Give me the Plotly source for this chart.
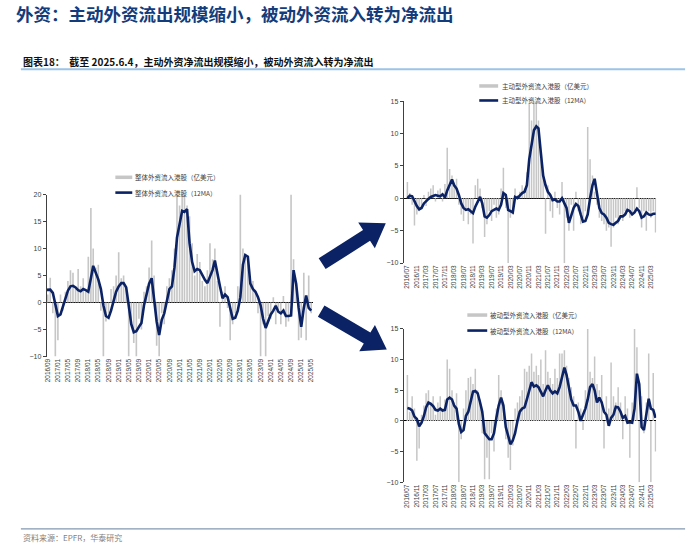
import plotly.graph_objects as go
import pandas as pd

# ---------------- data ----------------
months = pd.date_range("2016-07-01", "2025-05-01", freq="MS")

# overall foreign flows into HK stocks (USD 100mn)
total_flow = [
    2.5, 3.0, 1.5, 4.6, -2.0, -10.0,
    -7.0, 1.5, -1.5, 2.0, 4.0, 6.0, 5.5, 2.5, 6.2, 3.0, 4.5, 2.0,
    8.5, 17.5, 10.0, 6.5, 7.0, -1.5, -10.0, -3.5, -2.0, 2.5, 3.0, 5.0,
    9.3, 4.5, 5.0, 2.5, -10.0, -3.0, -7.5, -10.0, -3.0, -5.0, 2.0, 3.0,
    6.5, 11.5, 5.0, -8.0, -10.0, -2.0, -4.0, 3.0, 4.5, 6.0, 10.0, 20.0,
    18.0, 20.0, 20.0, 18.0, 16.0, 11.0, 5.0, 9.0, 7.5, 4.0, 3.0, 6.0,
    11.0, 8.0, 10.0, 4.0, -4.5, 2.0, 3.0, -1.0, -7.0, -4.0, -2.0, 3.0,
    20.0, 10.0, 9.0, 8.0, 3.5, 4.0, 2.0, -2.0, -10.0, -4.0, -10.0, -2.5,
    -3.0, 1.0, -4.0, -1.5, -4.0, 1.2, -4.5, -3.5, 20.0, 8.0, 3.0, -7.0,
    -6.5, 5.5, -7.0, 5.0, -2.0,
]
total_ma = [
    2.3, 2.3, 2.3, 2.4, 1.8, -0.5,
    -2.5, -2.2, -0.8, 0.3, 2.2, 3.0, 3.1, 2.8, 2.3, 2.1, 2.5, 2.3,
    2.0, 4.5, 6.8, 5.5, 4.3, 2.5, -0.5, -2.5, -2.8, -1.5, 0.5, 2.0,
    3.0, 3.6, 3.6, 2.8, -0.5, -4.0, -5.5, -5.3, -4.5, -3.8, -0.5, 1.5,
    3.5, 4.5, 1.0, -3.5, -6.0, -3.2, -2.0, 0.3, 2.5, 3.0, 6.5, 12.0,
    14.5, 17.0, 16.8, 17.3, 11.0, 7.5, 5.8, 6.2, 6.0, 5.0, 4.2, 3.6,
    5.0, 6.0, 7.8, 5.0, 3.0, 0.8, 1.5, 1.0, -1.0, -3.0, -2.8, -1.5,
    1.0, 7.0, 8.8, 8.5, 3.5, 2.5, 2.0, 1.0, -0.5, -3.0, -4.7, -3.5,
    -2.2, -1.5, -0.6, -1.7, -2.0, -1.5, -2.5, -2.5, -2.4, 6.0, 3.5, -1.0,
    -4.5, -1.0, 1.3, -1.0, -1.5,
]

# active foreign flows
active_flow = [
    2.5, 0.8, -1.0, -4.2, -2.5, -2.0,
    -1.5, 0.5, -1.2, 1.0, 1.5, 2.0, -0.5, 1.2, 1.5, -0.5, 2.2, 7.8,
    4.5, 3.5, 2.0, 3.0, -1.0, -2.5, -3.5, -1.5, -4.0, -2.5, -7.0, 2.0,
    3.0, 1.5, -1.5, -6.0, -4.0, -2.0, -3.5, -1.0, -3.0, -2.5, 1.5, 4.7,
    -1.5, -10.0, -3.0, -2.5, 1.5, 0.5, 1.0, 2.0, 1.5, 4.0, 14.5, 12.0,
    15.0, 15.0, 12.0, 6.0, 4.0, -5.5, 2.0, -2.0, -3.0, 1.0, -1.5, -2.5,
    2.5, -10.0, -3.0, -5.0, -1.0, -5.0, 1.0, -2.0, -4.0, -3.0, -2.0, 11.0,
    6.0, 3.5, 1.0, -1.0, -3.0, -3.5, -4.0, -5.0, -4.5, -7.5, -4.5, -3.0,
    -4.0, -2.5, -3.5, -2.0, -1.5, -3.0, -2.5, -2.0, 1.7, -1.5, -4.5, -2.0,
    -5.0, -2.0, -3.0, -2.0, -5.3,
]
active_ma = [
    0.0, 0.4, 0.3, -0.5, -1.2, -1.7,
    -1.5, -0.8, -0.4, -0.1, 0.2, 0.4, 0.5, 0.4, 0.3, 0.6, 0.1, 1.2,
    2.0, 2.9, 2.0, 1.5, 0.5, -0.8, -1.5, -1.8, -1.7, -2.0, -2.3, -1.3,
    -0.5, 0.2, -0.8, -2.8, -3.0, -2.6, -2.0, -1.8, -1.6, -1.8, -1.0, 0.8,
    0.5, -1.8, -2.0, -2.2, 0.2, 0.0, 0.4, 0.8, 1.0, 2.0, 6.0, 8.0,
    10.5, 11.1, 10.8, 7.0, 3.5, 2.0, 1.0, 0.5, -0.3, -0.2, -0.5, -0.5,
    0.0, -0.8, -1.5, -3.8, -2.5, -1.5, -0.9, -1.2, -2.5, -3.6, -3.5, -2.5,
    0.0, 2.0, 3.0, 0.5, -1.5, -2.3, -2.5, -3.0, -3.8, -4.0, -4.1, -3.8,
    -3.5, -2.8, -2.8, -2.5, -1.8, -2.0, -2.5, -2.2, -1.6, -2.0, -3.0, -2.8,
    -2.2, -2.5, -2.6, -2.4, -2.4,
]

# passive foreign flows
passive_flow = [
    7.5, 1.5, 4.0, 2.0, -6.5, -4.5,
    1.0, 2.5, 4.5, 5.0, 3.0, 4.0, 1.0, 3.0, 4.0, 2.0, 3.5, 10.0,
    8.5, 5.0, 3.0, 4.5, -10.0, -3.0, 2.0, 5.0, 7.0, 7.2, 6.0, 8.5,
    5.0, 3.5, -2.0, -9.5, -6.0, -9.5, -2.0, -5.0, 2.0, 7.5, 5.0, 3.0,
    -3.0, -6.0, -8.0, -4.0, 2.0, 3.0, 4.0, 5.0, 8.5, 8.0, 9.0, 11.0,
    8.0, 9.0, 7.5, 10.0, 6.0, 11.5, 8.0, 7.0, 6.0, 8.5, 7.0, 11.0,
    11.0, 11.5, 9.0, 7.0, 5.5, 4.0, -4.5, 3.0, 2.0, -1.5, 5.0, 15.0,
    8.0, 7.0, 10.5, 6.0, 5.0, 7.5, -4.5, 4.0, 2.0, 9.5, 4.0, 3.0,
    5.5, 3.0, -3.0, 4.0, 2.0, -6.0, 3.0, 15.0, 12.0, -10.0, 4.0, -2.0,
    3.0, 11.0, -10.0, 7.8, -5.0,
]
passive_ma = [
    2.1, 2.0, 1.7, 0.7, 0.3, -0.9,
    -0.3, 0.8, 2.2, 3.0, 2.8, 2.4, 1.8, 1.7, 2.0, 1.7, 1.8, 3.5,
    3.8, 3.5, 2.5, 2.0, -0.5, -1.8, -1.5, 0.8, 1.5, 3.0, 4.8, 4.9,
    4.5, 3.0, 1.5, -2.0, -2.5, -3.0, -3.0, -2.0, 0.5, 2.5, 3.8, 2.5,
    -1.0, -2.5, -3.8, -3.2, -2.0, 0.0, 1.5, 2.0, 2.2, 3.5, 5.0, 6.3,
    5.6, 5.8, 5.5, 4.8, 4.0, 5.0, 5.8, 5.0, 4.5, 4.8, 4.5, 5.5,
    7.0, 8.7, 7.5, 5.5, 3.5, 2.5, 2.5, 1.5, 0.0, 1.0, 2.0, 3.5,
    5.5, 6.0, 5.0, 3.0, 3.8, 3.0, 1.5, 1.0, -0.8, 0.5, 1.0, 2.3,
    2.2, 1.5, 0.5, 0.8, -0.3, -0.2, -0.3, 2.0, 7.7, 6.0, -1.0, -1.5,
    1.0, 3.6, 2.0, 1.8, 0.5,
]

title_text = "外资：主动外资流出规模缩小，被动外资流入转为净流出"
subtitle_text = "图表18：  截至 2025.6.4，主动外资净流出规模缩小，被动外资流入转为净流出"
source_text = "资料来源：EPFR，华泰研究"
legend_total = ["整体外资流入港股（亿美元）", "整体外资流入港股（12MA）"]
legend_active = ["主动型外资流入港股（亿美元）", "主动型外资流入港股（12MA）"]
legend_passive = ["被动型外资流入港股（亿美元）", "被动型外资流入港股（12MA）"]

# ---------------- styling ----------------
W, H = 699, 559
GRAY = "#c6c6c6"
NAVY = "#0b2265"
CJK = "Noto Sans CJK SC"
LAT = "Liberation Sans, Arial, sans-serif"


def fx(p):
    return p / W


def fy(p):
    return 1 - p / H


fig = go.Figure()

panels = [
    ("x", "y", total_flow, total_ma),
    ("x2", "y2", active_flow, active_ma),
    ("x3", "y3", passive_flow, passive_ma),
]
for xa, ya, bars, line in panels:
    fig.add_trace(go.Bar(x=months, y=bars, xaxis=xa, yaxis=ya,
                         marker=dict(color=GRAY, line=dict(width=0)),
                         showlegend=False))
    fig.add_trace(go.Scatter(x=months, y=line, xaxis=xa, yaxis=ya, mode="lines",
                             line=dict(color=NAVY, width=2.6),
                             showlegend=False))

xcommon = dict(type="date", dtick="M4", tickformat="%Y/%m", tickangle=-90,
               tickfont=dict(size=6.5, color="#404040", family=LAT),
               showgrid=False, showline=False, zeroline=False, ticks="",
               fixedrange=True)
ycommon = dict(dtick=5, showgrid=False, showline=True, linecolor="#404040",
               linewidth=1, ticks="outside", ticklen=3, tickcolor="#404040",
               tickfont=dict(size=7, color="#404040", family=LAT),
               zeroline=True, zerolinecolor="#000000", zerolinewidth=1,
               fixedrange=True)

fig.update_layout(
    width=W, height=H,
    margin=dict(l=0, r=0, t=0, b=0),
    paper_bgcolor="white", plot_bgcolor="rgba(0,0,0,0)",
    bargap=0.3, barmode="overlay",
    showlegend=False,
    xaxis=dict(xcommon, domain=[fx(44), fx(312)], anchor="y",
               range=["2016-08-20", "2025-05-25"], tick0="2016-09-01"),
    yaxis=dict(ycommon, domain=[fy(357), fy(193)], anchor="x", range=[-10, 20]),
    xaxis2=dict(xcommon, domain=[fx(403), fx(657)], anchor="y2",
                range=["2016-05-14", "2025-05-10"], tick0="2016-07-01"),
    yaxis2=dict(ycommon, domain=[fy(262.3), fy(98.3)], anchor="x2", range=[-10, 15]),
    xaxis3=dict(xcommon, domain=[fx(403), fx(657)], anchor="y3",
                range=["2016-05-14", "2025-05-10"], tick0="2016-07-01"),
    yaxis3=dict(ycommon, domain=[fy(484.3), fy(329)], anchor="x3", range=[-10, 15]),
)

shapes = []
annotations = []

# header / footer
annotations.append(dict(x=fx(11), y=fy(10), xref="paper", yref="paper",
                        text="<b>" + title_text + "</b>", showarrow=False,
                        xanchor="left", yanchor="middle",
                        font=dict(family=CJK, size=17.5, color="#123c7c")))
annotations.append(dict(x=fx(18), y=fy(58.5), xref="paper", yref="paper",
                        text="<b>" + subtitle_text + "</b>", showarrow=False,
                        xanchor="left", yanchor="middle",
                        font=dict(family=CJK, size=10, color="#111111")))
shapes.append(dict(type="line", xref="paper", yref="paper",
                   x0=fx(18), x1=fx(686), y0=fy(66), y1=fy(66),
                   line=dict(color="#9dc3e6", width=2)))
shapes.append(dict(type="line", xref="paper", yref="paper",
                   x0=fx(18), x1=fx(686), y0=fy(531.5), y1=fy(531.5),
                   line=dict(color="#8497b0", width=1.2)))
annotations.append(dict(x=fx(18), y=fy(540), xref="paper", yref="paper",
                        text=source_text, showarrow=False,
                        xanchor="left", yanchor="middle",
                        font=dict(family=CJK, size=8, color="#7f7f7f")))

# legends
def add_legend(labels, sx0, sx1, ty0, ty1, tx):
    shapes.append(dict(type="line", xref="paper", yref="paper",
                       x0=fx(sx0), x1=fx(sx1), y0=fy(ty0), y1=fy(ty0),
                       line=dict(color=GRAY, width=3.5)))
    shapes.append(dict(type="line", xref="paper", yref="paper",
                       x0=fx(sx0), x1=fx(sx1), y0=fy(ty1), y1=fy(ty1),
                       line=dict(color=NAVY, width=2.6)))
    for lab, yy in zip(labels, [ty0, ty1]):
        annotations.append(dict(x=fx(tx), y=fy(yy), xref="paper", yref="paper",
                                text=lab, showarrow=False, xanchor="left",
                                yanchor="middle",
                                font=dict(family=CJK, size=6.5, color="#404040")))

add_legend(legend_total, 113, 130, 175.5, 191, 131)
add_legend(legend_active, 479, 498, 83, 97.7, 500)
add_legend(legend_passive, 467, 487, 315, 330.7, 488)

# arrows
def arrow_path(tail, tip, half_shaft=6.5, half_head=15.5, head_len=23):
    (tx, ty), (px, py) = tail, tip
    dx, dy = px - tx, py - ty
    L = (dx * dx + dy * dy) ** 0.5
    ux, uy = dx / L, dy / L
    nx, ny = -uy, ux
    bx, by = px - head_len * ux, py - head_len * uy
    pts = [
        (tx + half_shaft * nx, ty + half_shaft * ny),
        (bx + half_shaft * nx, by + half_shaft * ny),
        (bx + half_head * nx, by + half_head * ny),
        (px, py),
        (bx - half_head * nx, by - half_head * ny),
        (bx - half_shaft * nx, by - half_shaft * ny),
        (tx - half_shaft * nx, ty - half_shaft * ny),
    ]
    return "M " + " L ".join(f"{fx(a):.5f} {fy(b):.5f}" for a, b in pts) + " Z"

for tail, tip in [((321, 263), (385, 222)), ((320, 311), (386, 350))]:
    shapes.append(dict(type="path", xref="paper", yref="paper",
                       path=arrow_path(tail, tip),
                       fillcolor=NAVY, line=dict(width=0)))

fig.update_layout(shapes=shapes, annotations=annotations)

fig.write_html("out.html",
               config={"displayModeBar": False, "staticPlot": True},
               post_script="document.body.style.margin='0px';"
                           "document.body.style.overflow='hidden';")
